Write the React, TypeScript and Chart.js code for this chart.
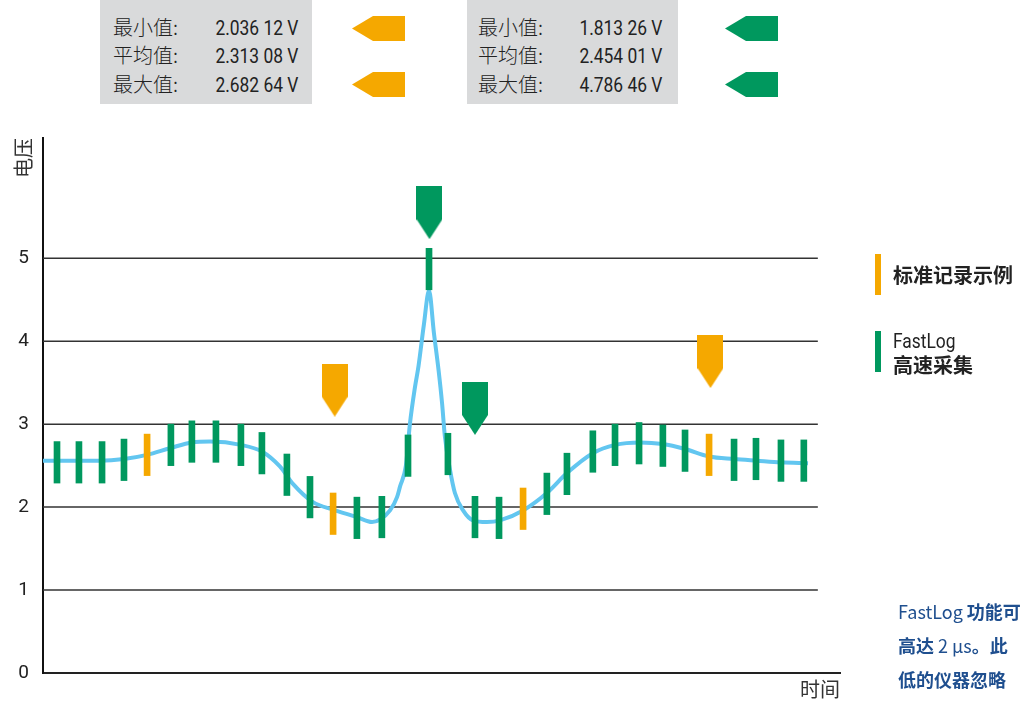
import React, { useEffect, useRef } from 'react';
import { Chart, registerables } from 'chart.js';

Chart.register(...registerables);

// ---- data ----
const yTicks = [0, 1, 2, 3, 4, 5];

// sample markers (bars): time position, value, kind (s = standard log, f = FastLog)
const sampleTimes = [0, 0.94, 1.93, 2.87, 3.86, 4.88, 5.78, 6.81, 7.88, 8.78, 9.85, 10.84, 11.83, 12.85, 13.92, 15.04, 15.94, 16.75, 17.91, 18.94, 19.97, 20.99, 21.85, 22.96, 23.91, 24.94, 25.96, 26.91, 27.94, 29.01, 29.95, 31.02, 32.0];
const sampleValues = [2.54, 2.54, 2.54, 2.57, 2.63, 2.75, 2.79, 2.79, 2.75, 2.65, 2.39, 2.12, 1.92, 1.87, 1.88, 2.62, 4.87, 2.64, 1.88, 1.87, 1.98, 2.16, 2.40, 2.67, 2.75, 2.77, 2.74, 2.68, 2.63, 2.57, 2.58, 2.56, 2.56];
const sampleKinds = ['f', 'f', 'f', 'f', 's', 'f', 'f', 'f', 'f', 'f', 'f', 'f', 's', 'f', 'f', 'f', 'f', 'f', 'f', 'f', 's', 'f', 'f', 'f', 'f', 'f', 'f', 'f', 's', 'f', 'f', 'f', 'f'];
const sampleHalfSpan = 0.25;

// continuous signal
const curveTimes = [-0.6, 0.56, 1.84, 2.87, 3.86, 4.84, 5.78, 6.56, 7.88, 8.78, 9.55, 10.11, 10.97, 11.83, 12.85, 13.5, 13.84, 14.27, 14.57, 14.7, 14.95, 15.12, 15.34, 15.49, 15.72, 15.94, 16.15, 16.35, 16.5, 16.62, 16.84, 17.05, 17.4, 17.82, 18.42, 18.98, 19.97, 20.99, 21.85, 22.96, 23.91, 24.98, 25.96, 26.91, 27.94, 29.01, 29.99, 31.02, 32.18];
const curveValues = [2.56, 2.56, 2.56, 2.58, 2.63, 2.71, 2.78, 2.79, 2.75, 2.67, 2.49, 2.28, 2.06, 1.97, 1.88, 1.82, 1.85, 1.96, 2.12, 2.25, 2.5, 3.0, 3.45, 3.7, 4.2, 4.61, 4.1, 3.65, 3.25, 2.85, 2.45, 2.17, 1.96, 1.84, 1.82, 1.84, 1.96, 2.17, 2.41, 2.65, 2.75, 2.78, 2.76, 2.70, 2.61, 2.58, 2.56, 2.54, 2.53];

// min / max pointer markers
const markerTimes = [11.9, 15.96, 17.91, 28.0];
const markerValues = [3.41, 5.55, 3.19, 3.755];
const markerKinds = ['s', 'f', 'f', 's'];

// statistics boxes
const statLabels = ['最小值:', '平均值:', '最大值:'];
const stdStats = ['2.036 12 V', '2.313 08 V', '2.682 64 V'];
const fastStats = ['1.813 26 V', '2.454 01 V', '4.786 46 V'];
const statArrowRows = [0, 2];

// ---- styles ----
const GREEN = '#00985e';
const ORANGE = '#f5a800';
const BLUE = '#62c6f0';
const CJK = "'Noto Sans CJK SC', sans-serif";
const LATIN = "Roboto, 'Noto Sans CJK SC', sans-serif";
const X_MIN = -0.6;
const X_MAX = 33.55;
const Y_MAX = 6.45;
const GRID_END = 32.6;

const kindColor = (k: string) => (k === 's' ? ORANGE : GREEN);

function Narrow({ children, origin }: { children: React.ReactNode; origin: string }) {
  return (
    <span style={{ display: 'inline-block', fontFamily: LATIN, transform: 'scaleX(0.87)', transformOrigin: origin }}>{children}</span>
  );
}

function LeftArrow({ color, left, top }: { color: string; left: number; top: number }) {
  return (
    <svg width={53} height={25} style={{ position: 'absolute', left, top }}>
      <polygon points="0,12.5 21,0 53,0 53,25 21,25" fill={color} />
    </svg>
  );
}

function StatBox({ left, width, labelLeft, valueRight, values }: { left: number; width: number; labelLeft: number; valueRight: number; values: string[] }) {
  return (
    <div style={{ position: 'absolute', left, top: 0, width, height: 104, background: '#d9dadb' }}>
      {statLabels.map((l, i) => (
        <div key={i} style={{ position: 'absolute', left: labelLeft, top: 13 + i * 28.3, height: 28, lineHeight: '28px', fontSize: 20, fontWeight: 300, color: '#222', whiteSpace: 'nowrap' }}>{l}</div>
      ))}
      {values.map((v, i) => (
        <div key={i} style={{ position: 'absolute', right: width - valueRight, top: 13 + i * 28.3, height: 28, lineHeight: '28px', fontSize: 20, color: '#222', whiteSpace: 'nowrap' }}>
          <Narrow origin="100% 50%">{v}</Narrow>
        </div>
      ))}
    </div>
  );
}

export default function App() {
  const ref = useRef<HTMLCanvasElement>(null);

  useEffect(() => {
    const makePointer = (color: string) => {
      const c = document.createElement('canvas');
      c.width = 26;
      c.height = 53;
      const g = c.getContext('2d')!;
      g.fillStyle = color;
      g.beginPath();
      g.moveTo(0, 0);
      g.lineTo(26, 0);
      g.lineTo(26, 33);
      g.lineTo(13, 53);
      g.lineTo(0, 33);
      g.closePath();
      g.fill();
      return c;
    };
    const pointers: Record<string, HTMLCanvasElement> = { s: makePointer(ORANGE), f: makePointer(GREEN) };

    const gridPlugin = {
      id: 'partialGrid',
      beforeDatasetsDraw(chart: any) {
        const { ctx, chartArea, scales } = chart;
        const xEnd = scales.x.getPixelForValue(GRID_END);
        ctx.save();
        ctx.strokeStyle = '#333';
        ctx.lineWidth = 1.5;
        yTicks.forEach((v) => {
          if (v === 0) return;
          const py = scales.y.getPixelForValue(v);
          ctx.beginPath();
          ctx.moveTo(chartArea.left, py);
          ctx.lineTo(xEnd, py);
          ctx.stroke();
        });
        ctx.restore();
      },
    };

    const chart = new Chart(ref.current!, {
      type: 'line',
      data: {
        datasets: [
          {
            type: 'scatter',
            data: markerTimes.map((t, i) => ({ x: t, y: markerValues[i] })),
            pointStyle: (c: any) => pointers[markerKinds[c.dataIndex]] as any,
            showLine: false,
            order: 0,
          } as any,
          {
            type: 'bar',
            data: sampleTimes.map((t, i) => ({ x: t, y: [sampleValues[i] - sampleHalfSpan, sampleValues[i] + sampleHalfSpan] })),
            backgroundColor: sampleKinds.map(kindColor),
            barThickness: 6,
            borderWidth: 0,
            grouped: false,
            order: 1,
          } as any,
          {
            type: 'line',
            data: curveTimes.map((t, i) => ({ x: t, y: curveValues[i] })),
            borderColor: BLUE,
            borderWidth: 4,
            pointRadius: 0,
            cubicInterpolationMode: 'monotone',
            fill: false,
            order: 2,
          } as any,
        ],
      },
      options: {
        animation: false,
        responsive: false,
        maintainAspectRatio: false,
        devicePixelRatio: 1,
        layout: { padding: { left: 0, top: 138, right: 181, bottom: 0 } },
        plugins: { legend: { display: false }, tooltip: { enabled: false } },
        scales: {
          x: {
            type: 'linear',
            min: X_MIN,
            max: X_MAX,
            offset: false,
            ticks: { display: false },
            grid: { display: false, drawTicks: false },
            border: { display: true, color: '#222', width: 2 },
            title: { display: true, text: '时间', align: 'end', color: '#333', font: { family: CJK, size: 20, weight: 'normal' }, padding: { top: 0, bottom: 2 } },
            afterFit: (s: any) => { s.height = 30; },
          },
          y: {
            type: 'linear',
            min: 0,
            max: Y_MAX,
            afterBuildTicks: (s: any) => { s.ticks = yTicks.map((v) => ({ value: v })); },
            ticks: { color: '#222', padding: 14, font: { family: LATIN, size: 19 } },
            grid: { display: false, drawTicks: false },
            border: { display: true, color: '#111', width: 2 },
            title: { display: true, text: '电压', align: 'end', color: '#333', font: { family: CJK, size: 20, weight: 'normal' }, padding: { top: 11, bottom: 0 } },
            afterFit: (s: any) => { s.width = 43; },
          },
        },
      } as any,
      plugins: [gridPlugin],
    });
    return () => chart.destroy();
  }, []);

  return (
    <div style={{ position: 'fixed', left: 0, top: 0, width: 1021, height: 703, overflow: 'hidden', background: '#fff', fontFamily: CJK }}>
      <canvas ref={ref} width={1021} height={703} style={{ position: 'absolute', left: 0, top: 0, width: 1021, height: 703 }} />
      <StatBox left={100} width={212} labelLeft={13} valueRight={198} values={stdStats} />
      <StatBox left={467} width={211} labelLeft={11} valueRight={195} values={fastStats} />
      {statArrowRows.map((r) => (
        <React.Fragment key={r}>
          <LeftArrow color={ORANGE} left={352} top={16 + r * 28} />
          <LeftArrow color={GREEN} left={725} top={16 + r * 28} />
        </React.Fragment>
      ))}
      {/* legend */}
      <div style={{ position: 'absolute', left: 875, top: 254, width: 6, height: 41, background: ORANGE }} />
      <div style={{ position: 'absolute', left: 893, top: 262, lineHeight: '26px', fontSize: 20, fontWeight: 700, color: '#222', whiteSpace: 'nowrap' }}>标准记录示例</div>
      <div style={{ position: 'absolute', left: 875, top: 331, width: 6, height: 41, background: GREEN }} />
      <div style={{ position: 'absolute', left: 893, top: 328, lineHeight: '23px', fontSize: 20, color: '#222', whiteSpace: 'nowrap' }}>
        <div><Narrow origin="0% 50%">FastLog</Narrow></div>
        <div style={{ fontWeight: 700 }}>高速采集</div>
      </div>
      {/* note */}
      <div style={{ position: 'absolute', left: 898, top: 594, lineHeight: '34px', fontSize: 18, color: '#1f4f8f', whiteSpace: 'nowrap' }}>
        <div>FastLog <b>功能可</b></div>
        <div><b>高达</b> 2 μs<b>。此</b></div>
        <div><b>低的仪器忽略</b></div>
      </div>
    </div>
  );
}
